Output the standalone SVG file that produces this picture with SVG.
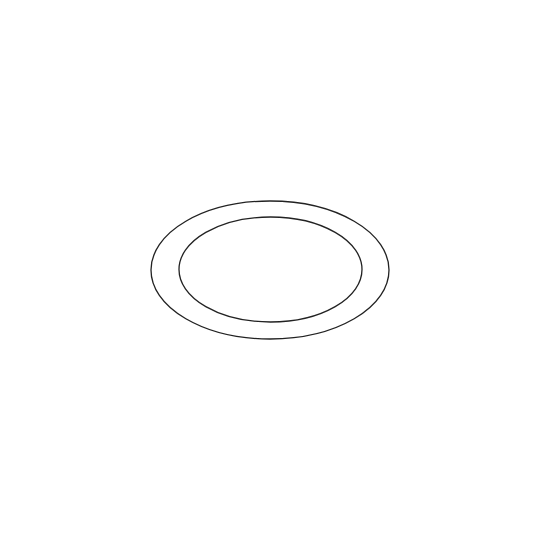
<svg xmlns="http://www.w3.org/2000/svg" width="540" height="540" viewBox="0 0 540 540">
<style>.r{fill:none;stroke:#222;stroke-width:1.3}</style>
<rect width="540" height="540" fill="#fff"/>
<g id="outer"><ellipse class="r" cx="270" cy="270" rx="119" ry="69"/></g>
<g id="inner"><ellipse class="r" cx="270.5" cy="269.5" rx="91.5" ry="52.5"/></g>
</svg>
